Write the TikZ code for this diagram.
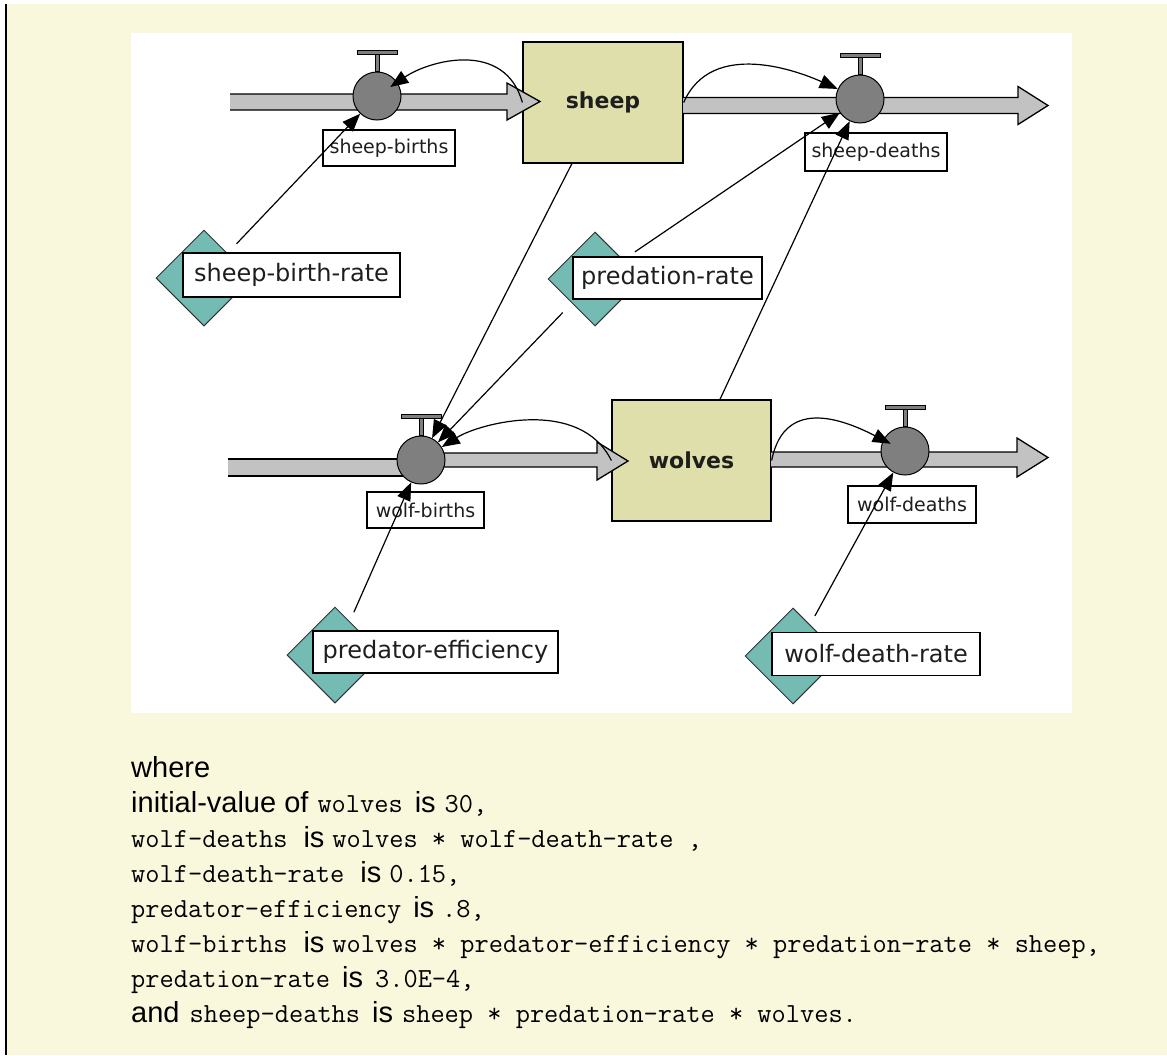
\documentclass[tikz,border=0pt]{standalone}
\usepackage{fontspec}
\setmainfont{Liberation Sans}
\newfontfamily\dvs{DejaVu Sans}
\usetikzlibrary{shapes.geometric,arrows.meta}
\definecolor{bgyel}{HTML}{FAF8DC}
\definecolor{stockc}{HTML}{DFDFAB}
\definecolor{auxc}{HTML}{73BBB3}
\definecolor{valvec}{HTML}{7F7F7F}
\definecolor{pipec}{HTML}{C2C2C2}
\definecolor{inkc}{HTML}{1E1E1E}
\newcommand\SansT{\rmfamily\fontsize{29pt}{34pt}\selectfont}
\newcommand\MonoT{\ttfamily\fontsize{27.6pt}{32pt}\selectfont}
\tikzset{
  stock/.style={draw=black, line width=1.3pt, fill=stockc, inner sep=0pt, text=inkc,
    font={\dvs\bfseries\fontsize{22pt}{26pt}\selectfont}},
  valve/.style={circle, draw=black, line width=1pt, fill=valvec, minimum size=48pt, inner sep=0pt},
  handle/.style={draw=black, line width=0.8pt, fill=valvec},
  aux/.style={diamond, draw=black!80, line width=1pt, fill=auxc, minimum width=96pt, minimum height=96pt, inner sep=0pt},
  bigl/.style={draw=black, line width=1.3pt, fill=white, inner sep=0pt, text=inkc,
    font={\dvs\fontsize{24pt}{28pt}\selectfont}},
  smalll/.style={draw=black, line width=1.1pt, fill=white, inner sep=0pt, text=inkc,
    font={\dvs\fontsize{19pt}{22pt}\selectfont}},
  link/.style={draw=black, line width=1.2pt, -{Triangle[length=18pt,width=14pt]}},
  pipe/.style={fill=pipec, draw=black, line width=1.3pt, line join=miter},
  txt/.style={anchor=base west, inner sep=0pt, text=black}
}
\begin{document}
\begin{tikzpicture}[x=1pt,y=-1pt]
\useasboundingbox (0,0) rectangle (1167,1055);
\fill[white] (0,0) rectangle (1167,1055);
\fill[bgyel] (7,4) rectangle (1167,1055);
\fill[black] (4.5,4) rectangle (7,1055);
\fill[white] (131,33) rectangle (1072,713);

% stocks
\node[stock, minimum width=160pt, minimum height=121pt] (sheep) at (603,102.5) {sheep};
\node[stock, minimum width=159pt, minimum height=121pt] (wolves) at (691.5,460.5) {wolves};

% pipes
\filldraw[pipe] (230,94) -- (507,94) -- (507,83) -- (540,101.5) -- (507,120) -- (507,110) -- (230,110);
\filldraw[pipe] (683,97.5) -- (1018,97.5) -- (1018,86.5) -- (1048,105.5) -- (1018,124.5) -- (1018,113.5) -- (683,113.5);
\filldraw[pipe] (228,459) -- (421,459) -- (421,476) -- (228,476);
\filldraw[pipe] (421,453) -- (597,453) -- (597,442) -- (628,461) -- (597,480) -- (597,467) -- (421,467);
\filldraw[pipe] (771,452) -- (1017,452) -- (1017,438) -- (1048,457.5) -- (1017,477) -- (1017,467) -- (771,467);

% valves
\node[valve] (sb) at (377,96) {};
\node[valve] (sd) at (860,99) {};
\node[valve] (wb) at (421,460) {};
\node[valve] (wd) at (905,451) {};
\foreach \v in {sb,sd,wb,wd}{
  \filldraw[handle] ([xshift=-2pt]\v.north) rectangle ([xshift=2pt,yshift=17pt]\v.north);
  \filldraw[handle] ([xshift=-20pt,yshift=17pt]\v.north) rectangle ([xshift=20pt,yshift=21pt]\v.north);
}

% auxiliaries
\node[aux] (sbr) at (204,278) {};
\node[bigl, minimum width=217pt, minimum height=44pt] (sbrl) at (291.5,275) {sheep-birth-rate};
\node[aux, minimum width=94pt, minimum height=94pt] (pr) at (595,279) {};
\node[bigl, minimum width=189pt, minimum height=42pt] (prl) at (667.5,278) {predation-rate};
\node[aux] (pe) at (335,655) {};
\node[bigl, minimum width=245pt, minimum height=42pt] (pel) at (435.5,652) {predator-efficiency};
\node[aux] (wdr) at (793,656) {};
\node[bigl, minimum width=208pt, minimum height=43pt] (wdrl) at (876,654) {wolf-death-rate};

% flow labels
\node[smalll, minimum width=132pt, minimum height=36pt] (sbl) at (389,148) {sheep-births};
\node[smalll, minimum width=142pt, minimum height=38pt] (sdl) at (876,152) {sheep-deaths};
\node[smalll, minimum width=117pt, minimum height=36pt] (wbl) at (425.5,510) {wolf-births};
\node[smalll, minimum width=128pt, minimum height=37pt] (wdl) at (912,504.5) {wolf-deaths};

% links
\draw[link, shorten <=13pt] (sbr) -- (sb);
\draw[link, shorten <=14pt] (pr) -- (sd);
\draw[link] (wolves) -- (sd);
\draw[link] (sheep) -- (wb);
\draw[link, shorten <=13pt] (pr) -- (wb);
\draw[link, shorten <=10pt] (pe) -- (wb);
\draw[link, shorten <=10pt] (wdr) -- (wd);
\draw[link, shorten >=16pt] (sheep.west) .. controls (505,40) and (430,60) .. (sb.center);
\draw[link] (sheep.east) .. controls (712,38) and (800,72) .. (sd);
\draw[link] (wolves.west) .. controls (580,397) and (480,423) .. (wb);
\draw[link, shorten >=16pt] (wolves.east) .. controls (785,393) and (850,423) .. (wd.center);

% text
\node[txt] (t1) at (131,777) {\SansT where};
\node[txt] (t2) at (131,812) {{\SansT initial-value of}\hspace{9pt}{\MonoT wolves}\hspace{12pt}{\SansT is}\hspace{9pt}{\MonoT 30,}};
\node[txt] (t3) at (131,847) {{\MonoT wolf-deaths}\hspace{16pt}{\SansT is}\hspace{8pt}{\MonoT wolves * wolf-death-rate ,}};
\node[txt] (t4) at (131,882) {{\MonoT wolf-death-rate}\hspace{16pt}{\SansT is}\hspace{8pt}{\MonoT 0.15,}};
\node[txt] (t5) at (131,917) {{\MonoT predator-efficiency}\hspace{12pt}{\SansT is}\hspace{8pt}{\MonoT .8,}};
\node[txt] (t6) at (131,952) {{\MonoT wolf-births}\hspace{16pt}{\SansT is}\hspace{8pt}{\MonoT wolves * predator-efficiency * predation-rate * sheep,}};
\node[txt] (t7) at (131,987) {{\MonoT predation-rate}\hspace{12pt}{\SansT is}\hspace{12pt}{\MonoT 3.0E-4,}};
\node[txt] (t8) at (131,1022) {{\SansT and}\hspace{10pt}{\MonoT sheep-deaths}\hspace{12pt}{\SansT is}\hspace{9pt}{\MonoT sheep * predation-rate * wolves.}};
\end{tikzpicture}
\end{document}
